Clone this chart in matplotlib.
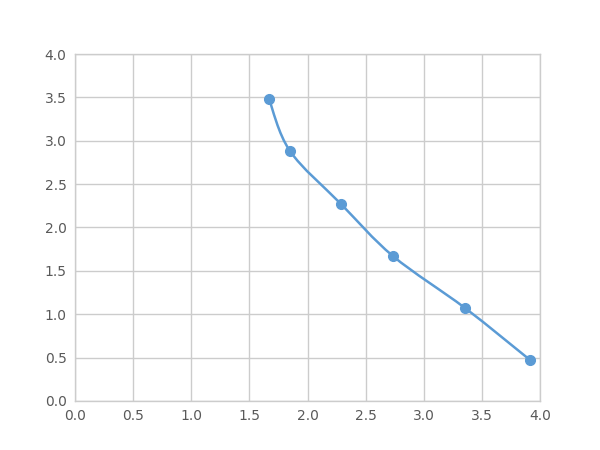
import matplotlib
matplotlib.use("Agg")
import matplotlib.pyplot as plt
from matplotlib.path import Path
from matplotlib.patches import PathPatch
import numpy as np

x_vals = [1.669, 1.849, 2.288, 2.735, 3.355, 3.914]
y_vals = [3.481, 2.882, 2.271, 1.671, 1.072, 0.473]
x_ticks = [0.0, 0.5, 1.0, 1.5, 2.0, 2.5, 3.0, 3.5, 4.0]
y_ticks = [0.0, 0.5, 1.0, 1.5, 2.0, 2.5, 3.0, 3.5, 4.0]

color = "#5B9BD5"
grid_c = "#CCCCCC"
text_c = "#595959"

fig = plt.figure(figsize=(6, 4.5), dpi=100)
ax = fig.add_axes([0.125, 0.1089, 0.775, 0.7711])
ax.set_xlim(0, 4)
ax.set_ylim(0, 4)
ax.set_xticks(x_ticks)
ax.set_yticks(y_ticks)
ax.set_xticklabels([f"{v:.1f}" for v in x_ticks])
ax.set_yticklabels([f"{v:.1f}" for v in y_ticks])
ax.grid(True, color=grid_c, linewidth=1)
ax.set_axisbelow(True)
for s in ax.spines.values():
    s.set_color(grid_c)
    s.set_linewidth(1)
ax.tick_params(length=0, colors=text_c, labelsize=10, pad=6)

# smooth line via cubic Bezier (Catmull-Rom control points)
px = np.array(x_vals); py = np.array(y_vals)
n = len(px)
verts = [(px[0], py[0])]
codes = [Path.MOVETO]
t = 1/6
for i in range(n - 1):
    p0 = (px[max(i-1, 0)], py[max(i-1, 0)])
    p1 = (px[i], py[i])
    p2 = (px[i+1], py[i+1])
    p3 = (px[min(i+2, n-1)], py[min(i+2, n-1)])
    c1 = (p1[0] + (p2[0]-p0[0])*t, p1[1] + (p2[1]-p0[1])*t)
    c2 = (p2[0] - (p3[0]-p1[0])*t, p2[1] - (p3[1]-p1[1])*t)
    verts += [c1, c2, p2]
    codes += [Path.CURVE4]*3
ax.add_patch(PathPatch(Path(verts, codes), facecolor="none", edgecolor=color, linewidth=1.8, zorder=3))
ax.plot(x_vals, y_vals, linestyle="none", marker="o", markersize=7, color=color, zorder=4)

fig.savefig("out.png", dpi=100)
